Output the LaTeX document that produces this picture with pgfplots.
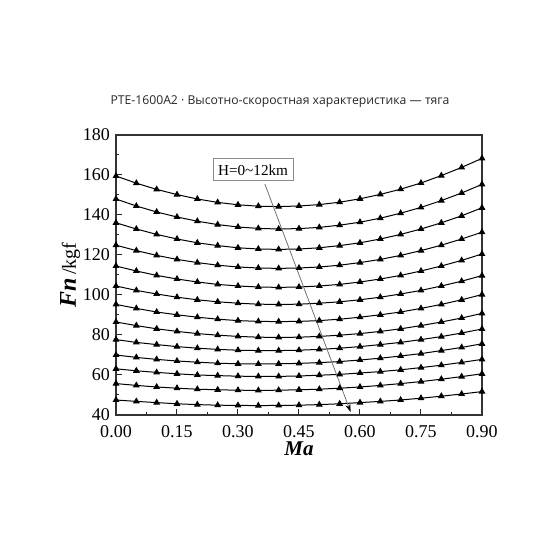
\documentclass[border=0pt]{standalone}
\usepackage{pgfplots}
\pgfplotsset{compat=1.18}
\usepackage{pgfplotstable}
\usepackage{fontspec}
\setmainfont{Liberation Serif}
\newfontfamily\titlefont{Open Sans}
\usetikzlibrary{arrows.meta}

\pgfplotstableread{
Ma   c1    c2    c3    c4    c5    c6    c7    c8   c9   c10  c11  c12  c13
0.00 159.5 148.0 136.1 124.9 114.5 104.5 95.3 86.5 77.7 70.0 63.1 55.7 47.5
0.05 155.9 144.5 133.0 122.2 112.0 102.3 93.3 84.7 76.3 68.8 62.1 54.8 46.8
0.10 152.8 141.5 130.3 119.8 109.8 100.5 91.5 83.1 75.2 67.8 61.3 54.0 46.2
0.15 150.2 139.0 128.0 117.8 108.0 98.9  90.1 81.8 74.2 67.0 60.6 53.4 45.6
0.20 148.0 136.9 126.1 116.2 106.5 97.6  88.9 80.7 73.4 66.4 60.0 52.9 45.2
0.25 146.3 135.2 124.7 114.9 105.3 96.6  87.9 79.9 72.8 65.9 59.7 52.6 44.9
0.30 145.1 134.0 123.6 114.0 104.5 95.9  87.2 79.3 72.4 65.6 59.4 52.4 44.8
0.35 144.4 133.3 123.0 113.5 104.0 95.4  86.8 78.9 72.2 65.5 59.3 52.3 44.7
0.40 144.2 133.0 122.8 113.3 103.8 95.3  86.7 78.8 72.2 65.6 59.3 52.4 44.8
0.45 144.5 133.2 123.0 113.5 104.0 95.4  86.8 78.9 72.4 65.8 59.5 52.6 44.9
0.50 145.2 133.8 123.6 114.0 104.5 95.9  87.2 79.3 72.8 66.2 59.9 52.9 45.2
0.55 146.4 134.9 124.7 114.9 105.3 96.6  87.9 79.9 73.4 66.7 60.3 53.4 45.6
0.60 148.1 136.4 126.1 116.2 106.5 97.6  88.9 80.7 74.2 67.5 61.0 54.0 46.2
0.65 150.3 138.4 128.0 117.8 108.0 98.9  90.1 81.8 75.2 68.4 61.7 54.8 46.8
0.70 152.9 140.9 130.3 119.8 109.8 100.5 91.5 83.1 76.3 69.5 62.6 55.7 47.5
0.75 156.0 143.8 133.0 122.2 112.0 102.3 93.3 84.7 77.7 70.7 63.7 56.7 48.4
0.80 159.7 147.2 136.1 124.9 114.5 104.5 95.3 86.5 79.2 72.2 64.9 57.9 49.4
0.85 163.8 151.0 139.6 128.0 117.3 106.9 97.6 88.5 81.0 73.8 66.3 59.2 50.5
0.90 168.3 155.3 143.6 131.4 120.5 109.7 100.2 90.8 83.0 75.6 67.8 60.6 51.7
}\datatable

\begin{document}
\begin{tikzpicture}
\useasboundingbox (-58pt,-72.5pt) rectangle (222pt,207.5pt);
\begin{axis}[
  scale only axis, width=183pt, height=140pt,
  at={(0,0)}, anchor=south west,
  xmin=0, xmax=0.9, ymin=40, ymax=180,
  xtick={0,0.15,0.3,0.45,0.6,0.75,0.9},
  xticklabels={0.00,0.15,0.30,0.45,0.60,0.75,0.90},
  ytick={40,60,80,100,120,140,160,180},
  minor x tick num=1, minor y tick num=1,
  tick align=inside, xtick pos=bottom, ytick pos=left,
  major tick length=2.8pt, minor tick length=1.6pt,
  tick style={black!85, line width=0.5pt},
  axis line style={black!80, line width=0.7pt},
  ticklabel style={font=\fontsize{9}{10}\selectfont},
  /pgf/number format/assume math mode=true,
  xticklabel style={yshift=-1.5pt},
  yticklabel style={xshift=0.5pt},
  xlabel={\fontsize{10.5}{12}\selectfont\textbf{\textit{Ma}}},
  xlabel style={at={(axis description cs:0.5,0)}, anchor=center, yshift=-17pt},
  ylabel={{\fontsize{12}{13}\selectfont\textbf{\textit{Fn}}}\,{\fontsize{10}{12}\selectfont /kgf}},
  ylabel style={at={(axis description cs:-0.125,0.5)}, anchor=center},
  clip=false,
]
\pgfplotsinvokeforeach{1,...,13}{
  \addplot[black, line width=0.5pt, mark=triangle*, mark size=1.5pt,
           mark options={fill=black}] table[x=Ma, y=c#1] {\datatable};
}
\draw[black!55, line width=0.4pt, -{Stealth[color=black, length=4pt, width=2.6pt]}]
  (axis cs:0.366,155.5) -- (axis cs:0.577,41.5);
\node[draw=black!45, fill=white, line width=0.5pt, inner sep=2.5pt,
      minimum height=11pt, font=\fontsize{7.6}{9}\selectfont]
  at (axis cs:0.337,162.5) {H=0\textasciitilde12km};
\end{axis}
\node[font=\titlefont\fontsize{6.1}{7}\selectfont, text=black!85] at (82pt,156.5pt)
  {PTE-1600A2 · Высотно-скоростная характеристика — тяга};
\end{tikzpicture}
\end{document}
